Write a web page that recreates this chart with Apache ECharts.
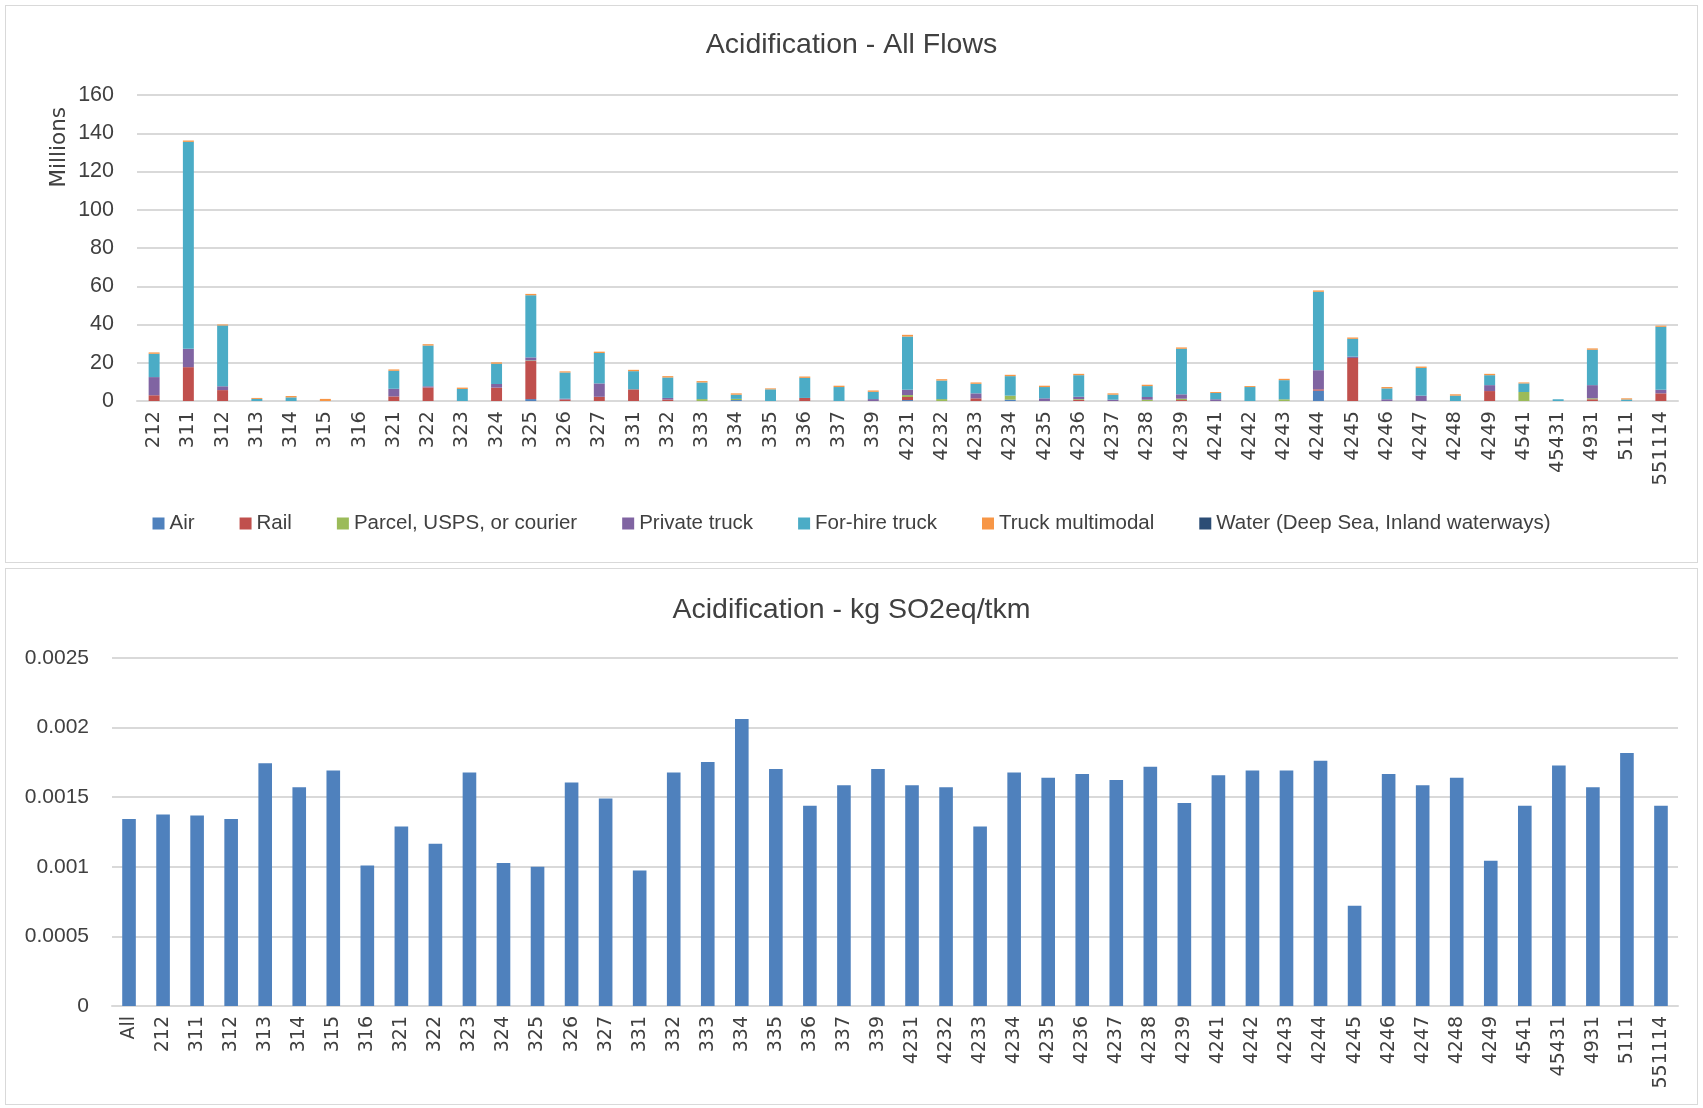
<!DOCTYPE html>
<html>
<head>
<meta charset="utf-8">
<script src="https://cdn.jsdelivr.net/npm/echarts@6/dist/echarts.min.js"></script>
<style>
    body { margin: 0; background: #fff; }
    .box { position: absolute; left: 5px; width: 1691px; border: 1px solid #d9d9d9; background: #fff; }
    #flows { top: 5px; height: 556px; }
    #perTkm { top: 568px; height: 535px; }
</style>
</head>
<body>
<div class="box" id="flows"></div>
<div class="box" id="perTkm"></div>
<script>
// categories (NAICS codes)
const codes = ['212', '311', '312', '313', '314', '315', '316', '321', '322', '323', '324', '325', '326', '327',
    '331', '332', '333', '334', '335', '336', '337', '339', '4231', '4232', '4233', '4234', '4235', '4236', '4237',
    '4238', '4239', '4241', '4242', '4243', '4244', '4245', '4246', '4247', '4248', '4249', '4541', '45431', '4931',
    '5111', '551114'];

// top chart, millions, per mode
const air = [0, 0, 0, 0, 0, 0, 0, 0, 0, 0, 0, 1.0, 0, 0, 0, 0, 0, 0.5, 0, 0, 0, 0, 0.5, 0, 0, 0.7, 0, 0, 0,
    0, 0, 0, 0, 0, 5.4, 0, 0, 0, 0, 0, 0, 0, 0, 0, 0];
const rail = [3.0, 17.7, 5.7, 0, 0, 0, 0, 2.4, 7.1, 0, 7.0, 19.9, 0.8, 2.2, 6.1, 0.8, 0, 0, 0, 1.6, 0, 0, 1.6, 0, 1.4, 0, 0, 0.6, 0,
    0, 0.5, 0, 0, 0, 0.7, 22.5, 0, 0, 0, 5.2, 0, 0, 0.9, 0, 4.0];
const parcel = [0, 0, 0, 0, 0, 0, 0, 0, 0, 0, 0, 0.3, 0, 0, 0, 0, 1.0, 0.6, 0, 0, 0, 0, 1.0, 1.0, 0, 2.1, 0, 0.4, 0,
    0.7, 0.7, 0, 0, 0.9, 0, 0, 0, 0, 0, 0, 4.7, 0, 0.5, 0, 0];
const privateTruck = [9.5, 9.6, 2.0, 0, 0, 0, 0, 4.0, 0.6, 0, 1.9, 1.6, 0.4, 7.0, 0, 0.8, 0, 0, 0, 0, 0, 1.0, 2.8, 0, 2.6, 0, 1.4, 1.2, 0.7,
    1.4, 2.3, 0.9, 0, 0, 10.0, 0.7, 0.9, 2.8, 0, 3.1, 0, 0, 6.9, 0, 1.9];
const forHire = [12.2, 108.2, 31.8, 1.1, 1.9, 0, 0, 9.4, 21.3, 6.3, 10.6, 32.5, 13.7, 15.9, 9.5, 10.7, 8.7, 2.2, 6.1, 10.5, 7.3, 3.8, 27.8, 9.7, 5.0, 10.2, 5.9, 11.3, 2.6,
    5.7, 23.8, 3.3, 7.3, 10.0, 41.0, 9.3, 5.7, 14.5, 2.8, 5.2, 4.5, 0.9, 18.5, 0.8, 32.9];
const multimodal = [0.7, 0.7, 0.5, 0.5, 0.7, 1.1, 0, 0.7, 0.7, 0.7, 0.7, 0.7, 0.6, 0.7, 0.7, 0.7, 0.7, 0.7, 0.5, 0.7, 0.7, 0.7, 0.9, 0.7, 0.7, 0.7, 0.7, 0.7, 0.7,
    0.7, 0.7, 0.5, 0.5, 0.7, 0.7, 0.7, 0.7, 0.7, 0.7, 0.7, 0.5, 0, 0.7, 0.6, 0.6];
const water = [0, 0, 0, 0, 0, 0, 0, 0, 0, 0, 0, 0, 0, 0, 0, 0, 0, 0, 0, 0, 0, 0, 0, 0, 0, 0, 0, 0, 0,
    0, 0, 0, 0, 0, 0, 0, 0, 0, 0, 0, 0, 0, 0, 0, 0];

// bottom chart, kg SO2eq/tkm
const tkmCodes = ['All'].concat(codes);
const tkmValues = [0.001343, 0.001375, 0.001368, 0.001343, 0.001744, 0.001571, 0.001692, 0.001009, 0.00129, 0.001165,
    0.001677, 0.001027, 0.001001, 0.001606, 0.001491, 0.000974, 0.001677, 0.001752, 0.002061, 0.001702, 0.001438,
    0.001586, 0.001702, 0.001586, 0.001571, 0.00129, 0.001677, 0.001639, 0.001667, 0.001624, 0.001719, 0.001458,
    0.001657, 0.001692, 0.001692, 0.001762, 0.00072, 0.001667, 0.001586, 0.001639, 0.001044, 0.001438, 0.001727,
    0.001571, 0.001817, 0.001438];

const modes = [
    { name: 'Air', data: air, color: '#4f81bd' },
    { name: 'Rail', data: rail, color: '#c0504d' },
    { name: 'Parcel, USPS, or courier', data: parcel, color: '#9bbb59' },
    { name: 'Private truck', data: privateTruck, color: '#8064a2' },
    { name: 'For-hire truck', data: forHire, color: '#4bacc6' },
    { name: 'Truck multimodal', data: multimodal, color: '#f79646' },
    { name: 'Water (Deep Sea, Inland waterways)', data: water, color: '#2c4d75' }
];

const font = 'Liberation Sans';
const txt = '#404040';
const gridLine = { lineStyle: { color: '#d9d9d9', width: 2 } };

let flowsChart = echarts.init(document.getElementById('flows'));
let tkmChart = echarts.init(document.getElementById('perTkm'));

let flowsOption = {
    animation: false,
    textStyle: { fontFamily: font },
    title: {
        text: 'Acidification - All Flows',
        left: 'center',
        top: 20,
        textStyle: { fontFamily: font, fontSize: 28.5, fontWeight: 'normal', color: txt }
    },
    legend: {
        bottom: 23,
        left: 'center',
        itemWidth: 12,
        itemHeight: 12,
        itemGap: 45,
        icon: 'rect',
        textStyle: { fontFamily: font, fontSize: 20.5, color: txt },
        data: modes.map(m => m.name)
    },
    grid: { left: 131, right: 19, top: 89, bottom: 161 },
    xAxis: {
        type: 'category',
        data: codes,
        axisTick: { show: false },
        axisLine: gridLine,
        axisLabel: { rotate: 90, fontFamily: 'DejaVu Sans', fontSize: 19.5, color: txt, margin: 10, interval: 0 }
    },
    yAxis: {
        type: 'value',
        min: 0,
        max: 160,
        interval: 20,
        name: 'Millions',
        nameLocation: 'end',
        nameRotate: 90,
        nameGap: 0,
        nameTextStyle: { fontFamily: 'DejaVu Sans', fontSize: 21.5, color: txt, align: 'right', verticalAlign: 'bottom', padding: [0, 12, 67, 0] },
        axisLabel: { fontFamily: font, fontSize: 21.5, color: txt, margin: 23 },
        splitLine: gridLine
    },
    series: modes.map(m => ({
        name: m.name,
        type: 'bar',
        stack: 'flows',
        barWidth: '32%',
        itemStyle: { color: m.color },
        data: m.data
    }))
};

let tkmOption = {
    animation: false,
    textStyle: { fontFamily: font },
    title: {
        text: 'Acidification - kg SO2eq/tkm',
        left: 'center',
        top: 22,
        textStyle: { fontFamily: font, fontSize: 28.5, fontWeight: 'normal', color: txt }
    },
    grid: { left: 106, right: 19, top: 89, bottom: 98 },
    xAxis: {
        type: 'category',
        data: tkmCodes,
        axisTick: { show: false },
        axisLine: gridLine,
        axisLabel: { rotate: 90, fontFamily: 'DejaVu Sans', fontSize: 19, color: txt, margin: 10, interval: 0 }
    },
    yAxis: {
        type: 'value',
        min: 0,
        max: 0.0025,
        interval: 0.0005,
        axisLabel: { fontFamily: font, fontSize: 21, color: txt, margin: 23 },
        splitLine: gridLine
    },
    series: [{
        type: 'bar',
        barWidth: '40%',
        itemStyle: { color: '#4f81bd' },
        data: tkmValues
    }]
};

flowsOption && flowsChart.setOption(flowsOption);
tkmOption && tkmChart.setOption(tkmOption);
</script>
</body>
</html>
